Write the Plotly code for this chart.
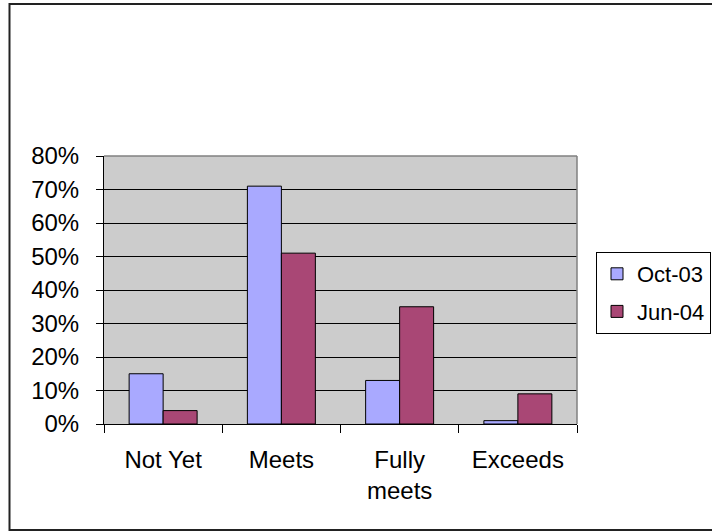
import plotly.graph_objects as go

categories = ["Not Yet", "Meets", "Fully meets", "Exceeds"]
tick_labels = ["Not Yet", "Meets", "Fully<br>meets", "Exceeds"]
series_names = ["Oct-03", "Jun-04"]
oct03 = [0.15, 0.71, 0.13, 0.01]
jun04 = [0.04, 0.51, 0.35, 0.09]
y_ticks = [0, 0.1, 0.2, 0.3, 0.4, 0.5, 0.6, 0.7, 0.8]

W, H = 712, 531
L, R, T, B = 104, 577, 156, 424  # plot area in pixels
pw, ph = R - L, B - T

def px_x(x):
    return (x - L) / pw

def px_y(y):
    return (B - y) / ph

FONT = "Liberation Sans, Arial, sans-serif"
FS = 24
colors = ["#A9A9FF", "#A94775"]

fig = go.Figure()
for name, vals, col in zip(series_names, [oct03, jun04], colors):
    fig.add_trace(go.Bar(
        x=categories, y=vals, name=name, legendgroup=name,
        marker=dict(color=col, line=dict(color="black", width=1)),
    ))

fig.update_layout(
    width=W, height=H,
    margin=dict(l=L, r=W - R, t=T, b=H - B, autoexpand=False),
    paper_bgcolor="white",
    plot_bgcolor="#CCCCCC",
    barmode="group", bargap=0.425, bargroupgap=0,
    font=dict(family=FONT, size=FS, color="black"),
    showlegend=True,
    legend=dict(
        x=px_x(596), y=px_y(252), xanchor="left", yanchor="top",
        bgcolor="white", bordercolor="black", borderwidth=1,
        font=dict(family=FONT, size=22, color="black"),
        traceorder="grouped", tracegroupgap=6,
    ),
    xaxis=dict(
        type="category", categoryorder="array", categoryarray=categories,
        tickmode="array", tickvals=categories, ticktext=tick_labels,
        showline=True, linecolor="black", linewidth=1,
        ticks="outside", tickson="boundaries", ticklen=8, tickcolor="black",
        showgrid=False, zeroline=False,
        ticklabelstandoff=14,
    ),
    yaxis=dict(
        range=[0, 0.8], tickmode="array", tickvals=y_ticks, tickformat=".0%",
        showline=True, linecolor="black", linewidth=1,
        ticks="outside", ticklen=7, tickcolor="black",
        showgrid=True, gridcolor="black", gridwidth=1, zeroline=False,
        ticklabelstandoff=12,
    ),
    shapes=[
        dict(type="rect", xref="paper", yref="paper", layer="below",
             x0=px_x(9.5), x1=px_x(W + 3), y0=px_y(530), y1=px_y(4),
             line=dict(color="#222222", width=2), fillcolor="rgba(0,0,0,0)"),
        dict(type="line", xref="paper", yref="paper", layer="above",
             x0=0, x1=1, y0=1, y1=1, line=dict(color="#808080", width=1.5)),
        dict(type="line", xref="paper", yref="paper", layer="above",
             x0=1, x1=1, y0=0, y1=1, line=dict(color="#808080", width=1.5)),
    ],
)

fig.write_html("out.html")
